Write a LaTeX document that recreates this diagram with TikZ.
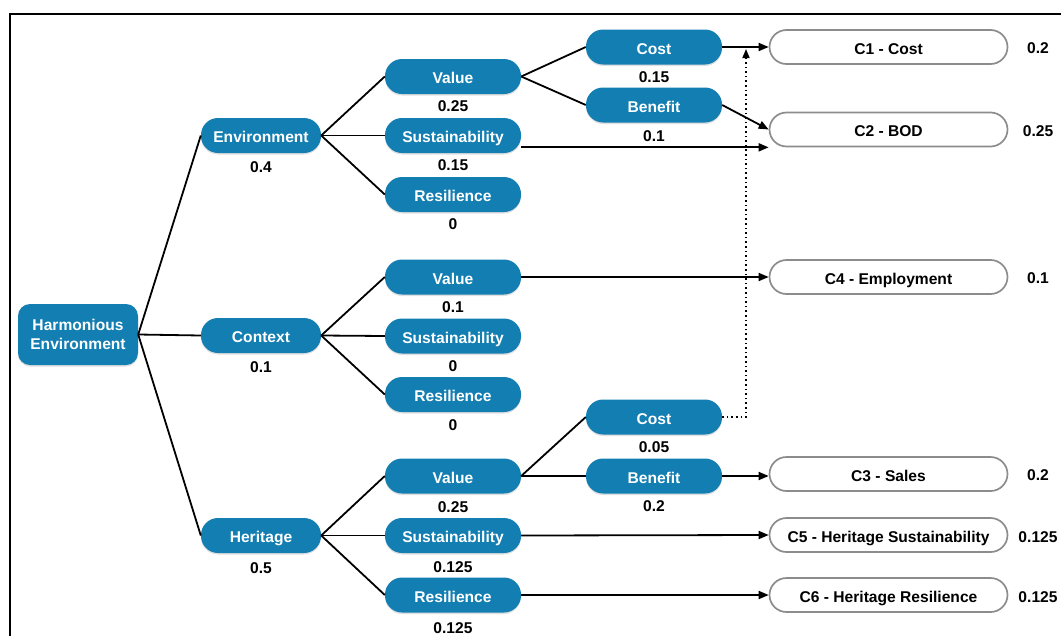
\documentclass[tikz,border=0pt]{standalone}
\usepackage{fontspec}
\setmainfont{Liberation Sans}
\usetikzlibrary{arrows.meta,shadows}
\definecolor{nodeblue}{RGB}{18,126,178}
\definecolor{cgray}{RGB}{140,140,140}
\begin{document}
\begin{tikzpicture}[x=1pt,y=-1pt,
  font=\fontsize{15.6}{19}\selectfont\bfseries,
  bluebox/.style={rectangle, rounded corners=17pt, fill=nodeblue, text=white,
    minimum height=35pt, inner sep=0pt, text height=14pt, text depth=0pt,
    drop shadow={opacity=0.25, shadow xshift=0pt, shadow yshift=-1.5pt}},
  lvlone/.style={bluebox, minimum width=120pt},
  lvltwo/.style={bluebox, minimum width=136pt},
  rootbox/.style={rectangle, rounded corners=12pt, fill=nodeblue, text=white,
    minimum width=120pt, minimum height=61pt, inner sep=0pt, align=center,
    drop shadow={opacity=0.25, shadow xshift=0pt, shadow yshift=-1.5pt}},
  critbox/.style={rectangle, rounded corners=17pt, draw=cgray, line width=1.7pt,
    fill=white, minimum width=238pt, minimum height=34pt, inner sep=0pt,
    text height=14pt, text depth=0pt},
  wlabel/.style={inner sep=0pt, text height=14pt, text depth=0pt},
  link/.style={line width=1.8pt, black},
  arr/.style={link, -{Triangle[length=10pt,width=8pt]}},
  dotarr/.style={line width=1.6pt, dash pattern=on 1.6pt off 3pt, -{Triangle[length=9pt,width=7pt]}}
]
\useasboundingbox (0,0) rectangle (1061,635);
\clip (0,0) rectangle (1061,635);
\draw[line width=2pt] (10,14) rectangle (1080,660);

% root
\node[rootbox] (root) at (78,334.5) {Harmonious\\Environment};

% level 1
\node[lvlone] (env) at (261,135.5) {Environment};
\node[lvlone] (ctx) at (261,335.5) {Context};
\node[lvlone] (her) at (261,535.5) {Heritage};
\node[wlabel] (lenv) at (261,165.5) {0.4};
\node[wlabel] (lctx) at (261,365.5) {0.1};
\node[wlabel] (lher) at (261,566.5) {0.5};

% level 2
\node[lvltwo] (vE) at (453,76.5) {Value};
\node[lvltwo] (sE) at (453,135.5) {Sustainability};
\node[lvltwo] (rE) at (453,194.5) {Resilience};
\node[lvltwo] (vC) at (453,277) {Value};
\node[lvltwo] (sC) at (453,336) {Sustainability};
\node[lvltwo] (rC) at (453,394.5) {Resilience};
\node[lvltwo] (vH) at (453,476) {Value};
\node[lvltwo] (sH) at (453,535.5) {Sustainability};
\node[lvltwo] (rH) at (453,595) {Resilience};
\node[wlabel] (lvE) at (453,104.5) {0.25};
\node[wlabel] (lsE) at (453,163.5) {0.15};
\node[wlabel] (lrE) at (453,222.5) {0};
\node[wlabel] (lvC) at (453,305.5) {0.1};
\node[wlabel] (lsC) at (453,364.5) {0};
\node[wlabel] (lrC) at (453,423.5) {0};
\node[wlabel] (lvH) at (453,505.5) {0.25};
\node[wlabel] (lsH) at (453,565.5) {0.125};
\node[wlabel] (lrH) at (453,626.5) {0.125};

% level 3
\node[lvltwo] (cE) at (654,47) {Cost};
\node[lvltwo] (bE) at (654,105) {Benefit};
\node[lvltwo] (cH) at (654,417) {Cost};
\node[lvltwo] (bH) at (654,476) {Benefit};
\node[wlabel] (lcE) at (654,75.5) {0.15};
\node[wlabel] (lbE) at (654,134.5) {0.1};
\node[wlabel] (lcH) at (654,445.5) {0.05};
\node[wlabel] (lbH) at (654,504.5) {0.2};

% criteria
\node[critbox] (c1) at (888.5,47) {C1 - Cost};
\node[critbox] (c2) at (888.5,129.5) {C2 - BOD};
\node[critbox] (c4) at (888.5,277) {C4 - Employment};
\node[critbox] (c3) at (888.5,474) {C3 - Sales};
\node[critbox] (c5) at (888.5,535) {C5 - Heritage Sustainability};
\node[critbox] (c6) at (888.5,595) {C6 - Heritage Resilience};
\node[wlabel] (lc1) at (1038,46.5) {0.2};
\node[wlabel] (lc2) at (1038,129.5) {0.25};
\node[wlabel] (lc4) at (1038,276.5) {0.1};
\node[wlabel] (lc3) at (1038,473.5) {0.2};
\node[wlabel] (lc5) at (1038,535.5) {0.125};
\node[wlabel] (lc6) at (1038,595.5) {0.125};

% tree links
\foreach \t in {env,ctx,her} \draw[link] (root.east) -- (\t.west);
\foreach \t in {vE,sE,rE} \draw[link] (env.east) -- (\t.west);
\foreach \t in {vC,sC,rC} \draw[link] (ctx.east) -- (\t.west);
\foreach \t in {vH,sH,rH} \draw[link] (her.east) -- (\t.west);
\foreach \t in {cE,bE} \draw[link] (vE.east) -- (\t.west);
\foreach \t in {cH,bH} \draw[link] (vH.east) -- (\t.west);

% arrows to criteria
\draw[arr] (cE.east) -- (c1.west);
\draw[arr] (bE.east) -- (c2.west);
\draw[arr] (sE.east |- c2.south) -- (c2.south west);
\draw[arr] (vC.east) -- (c4.west);
\draw[arr] (bH.east) -- (bH.east -| c3.west);
\draw[arr] (sH.east) -- (c5.west);
\draw[arr] (rH.east) -- (c6.west);

% dotted
\coordinate (dt) at (746,49);
\draw[dotarr] (cH.east) -| (dt);
\end{tikzpicture}
\end{document}
